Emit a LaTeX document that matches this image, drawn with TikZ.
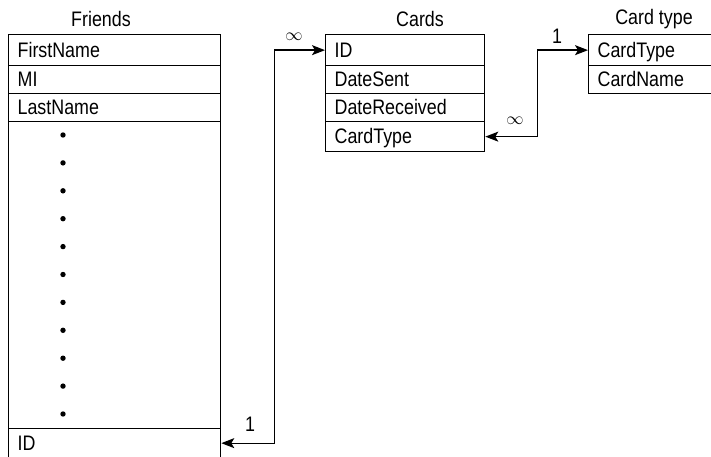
\documentclass[tikz,border=0pt]{standalone}
\usepackage{fontspec}
\setmainfont{Liberation Sans}[FakeStretch=0.85]
\usetikzlibrary{arrows.meta}

\begin{document}
\begin{tikzpicture}[x=1pt, y=-1pt, every node/.style={font=\fontsize{21}{25}\selectfont}]

        % Styles for the table rows, titles and relation lines
        \tikzset{field/.style={draw, line width=1.3pt, anchor=north west, inner xsep=9pt, inner ysep=0pt,
                                align=left, text width=#1, text height=17pt, text depth=3pt},
                 title/.style={inner sep=0pt},
                 link/.style={line width=1.3pt, {Stealth[length=13pt,width=10pt,inset=3pt]}-{Stealth[length=13pt,width=10pt,inset=3pt]}},
                 lbl/.style={inner sep=0pt}}

        % --- Page frame: the boxes run off the bottom and right edges ---
        \useasboundingbox (0,0) rectangle (711,457);
        \clip (0,0) rectangle (711,457);

        % --- Table: Friends ---
        \node[title] (tFriends) at (101,19) {Friends};
        \node[field=194pt, minimum height=31pt] (fFirst) at (8,34) {FirstName};
        \node[field=194pt, minimum height=28pt] (fMI) at (8,65) {MI};
        \node[field=194pt, minimum height=28pt] (fLast) at (8,93) {LastName};
        \node[field=194pt, minimum height=307pt] (fGap) at (8,121) {};
        \node[field=194pt, minimum height=29pt] (fID) at (8,428) {ID};
        % the dots standing for the other fields
        \foreach \i in {0,...,10}
            \fill (63, 135+27.9*\i) circle (2.7pt);

        % --- Table: Cards ---
        \node[title] (tCards) at (420,19) {Cards};
        \node[field=141pt, minimum height=31pt] (cID) at (325,34) {ID};
        \node[field=141pt, minimum height=28pt] (cSent) at (325,65) {DateSent};
        \node[field=141pt, minimum height=28pt] (cReceived) at (325,93) {DateReceived};
        \node[field=141pt, minimum height=30pt] (cType) at (325,121) {CardType};

        % --- Table: Card type ---
        \node[title] (tCardType) at (654,19) {Card type};
        \node[field=140pt, minimum height=31pt] (kType) at (588,34) {CardType};
        \node[field=140pt, minimum height=28pt] (kName) at (588,65) {CardName};

        % --- Relations ---
        \draw[link] (fID.east) -- ++(53,0) |- (cID.west);
        \node[lbl] (mFriends) at (250,424) {1};
        \node[lbl] (mCards) at (294,37) {\fontsize{18}{18}\selectfont$\infty$};

        \draw[link] (cType.east) -- ++(52,0) |- (kType.west);
        \node[lbl] (mType) at (557,36) {1};
        \node[lbl] (mMany) at (515,121) {\fontsize{18}{18}\selectfont$\infty$};

    \end{tikzpicture}
\end{document}
